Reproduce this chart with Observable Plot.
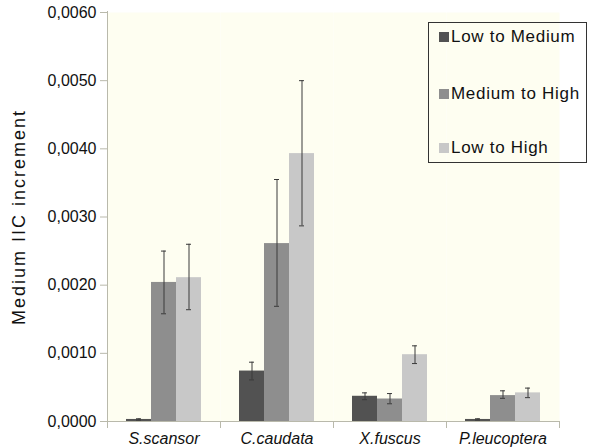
<!DOCTYPE html>
<html>
<head>
<meta charset="utf-8">
<script src="https://cdn.jsdelivr.net/npm/d3@7"></script>
<script src="https://cdn.jsdelivr.net/npm/@observablehq/plot@0.6"></script>
<style>
  body { margin: 0; background: white; font-family: "Liberation Sans", Arial, Helvetica, sans-serif; }
  #wrap { position: relative; width: 589px; height: 448px; }
  #legend { position: absolute; left: 428px; top: 22px; width: 159px; height: 141px; border: 1px solid #333; box-sizing: border-box; }
  #legend .row { position: absolute; left: 10px; display: flex; align-items: center; height: 20px; }
  #legend .sw { width: 10px; height: 10px; margin-right: 2px; }
  #legend .lab { font-size: 17px; letter-spacing: 0.7px; color: #111; }
  svg [aria-label="y-axis label"] text { font-size: 18px; letter-spacing: 2px; }
</style>
</head>
<body>
<div id="wrap"></div>
<script>
// ---- data ----
const species = ["S.scansor", "C.caudata", "X.fuscus", "P.leucoptera"];
const series = ["Low to Medium", "Medium to High", "Low to High"];
const colors = ["#525252", "#8e8e8e", "#c8c8c8"];

const lowToMedium      = [0.00003, 0.00074, 0.00037, 0.00003];
const lowToMediumLow   = [0.00002, 0.00061, 0.00032, 0.00002];
const lowToMediumHigh  = [0.00004, 0.00087, 0.00042, 0.00004];

const mediumToHigh     = [0.00204, 0.00261, 0.00033, 0.00038];
const mediumToHighLow  = [0.00158, 0.00169, 0.00026, 0.00034];
const mediumToHighHigh = [0.00250, 0.00355, 0.00041, 0.00045];

const lowToHigh        = [0.00211, 0.00393, 0.00098, 0.00042];
const lowToHighLow     = [0.00164, 0.00287, 0.00085, 0.00035];
const lowToHighHigh    = [0.00260, 0.00500, 0.00111, 0.00049];

const yTicks = [0, 0.001, 0.002, 0.003, 0.004, 0.005, 0.006];
const yLabel = "Medium IIC increment";

// ---- table ----
const seriesValues = [
  [lowToMedium, lowToMediumLow, lowToMediumHigh],
  [mediumToHigh, mediumToHighLow, mediumToHighHigh],
  [lowToHigh, lowToHighLow, lowToHighHigh]
];
const data = [];
species.forEach((sp, i) => {
  series.forEach((se, j) => {
    const [v, lo, hi] = seriesValues[j];
    data.push({species: sp, series: se, value: v[i], lo: lo[i], hi: hi[i]});
  });
});

const fmt = d => d3.format(".4f")(d).replace(".", ",");
const axisColor = "#b9b9ab";

const chart = Plot.plot({
  width: 589,
  height: 448,
  marginLeft: 107,
  marginRight: 30,
  marginTop: 12,
  marginBottom: 27,
  style: {fontFamily: "'Liberation Sans', Arial, Helvetica, sans-serif", fontSize: "16px", background: "transparent", overflow: "visible"},
  fx: {domain: species, padding: 0, label: null},
  x: {domain: series, paddingInner: 0, paddingOuter: 0.76, axis: null},
  y: {domain: [0, 0.006]},
  color: {domain: series, range: colors},
  marks: [
    Plot.frame({fill: "#fefef1", stroke: null}),
    Plot.ruleY([0], {stroke: axisColor, strokeWidth: 1}),
    Plot.barY(data, {fx: "species", x: "series", y: "value", fill: "series"}),
    Plot.ruleX(data, {fx: "species", x: "series", y1: "lo", y2: "hi", stroke: "#3a3a3a", strokeWidth: 1}),
    Plot.tickY(data, {fx: "species", x: "series", y: "lo", stroke: "#3a3a3a", insetLeft: 10, insetRight: 10}),
    Plot.tickY(data, {fx: "species", x: "series", y: "hi", stroke: "#3a3a3a", insetLeft: 10, insetRight: 10}),
    Plot.axisY({ticks: yTicks, tickFormat: fmt, tickSize: 7, tickPadding: 4, fontSize: 16, stroke: axisColor, fill: "#111",
      label: yLabel, labelAnchor: "center", labelOffset: 95, labelArrow: "none"}),
    Plot.axisFx({anchor: "bottom", tickSize: 0, tickPadding: 11, fontSize: 16, fontStyle: "italic", fill: "#111", label: null})
  ]
});

// axis line and category separators, positioned through the chart's own scales
const ys = chart.scale("y");
const fxs = chart.scale("fx");
const svg = d3.select(chart.tagName === "svg" ? chart : chart.querySelector("svg"));
const y0 = ys.apply(0), yTop = ys.apply(d3.max(yTicks));
const g = svg.append("g").attr("stroke", axisColor).attr("stroke-width", 1);
const edges = species.map(s => fxs.apply(s)).concat([fxs.apply(species[species.length - 1]) + fxs.bandwidth]);
g.append("line").attr("x1", edges[0] + 0.5).attr("x2", edges[0] + 0.5).attr("y1", yTop - 1).attr("y2", y0 + 7);
edges.slice(1).forEach(x => {
  g.append("line").attr("x1", x + 0.5).attr("x2", x + 0.5).attr("y1", y0).attr("y2", y0 + 7);
});

const wrap = document.getElementById("wrap");
wrap.appendChild(chart);

// legend
const legend = document.createElement("div");
legend.id = "legend";
const rowTops = [4, 61, 115];
series.forEach((s, i) => {
  const row = document.createElement("div");
  row.className = "row";
  row.style.top = rowTops[i] + "px";
  const sw = document.createElement("span");
  sw.className = "sw";
  sw.style.background = colors[i];
  const lab = document.createElement("span");
  lab.className = "lab";
  lab.textContent = s;
  row.appendChild(sw);
  row.appendChild(lab);
  legend.appendChild(row);
});
wrap.appendChild(legend);
</script>
</body>
</html>
